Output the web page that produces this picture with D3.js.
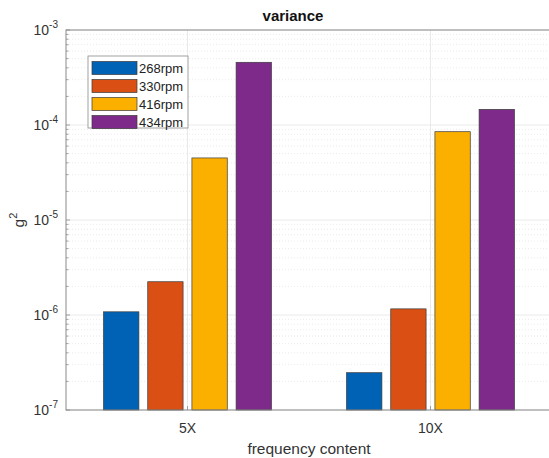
<!DOCTYPE html>
<html><head><meta charset="utf-8">
<script src="https://cdn.jsdelivr.net/npm/d3@7"></script>
<style>body{margin:0;background:#fff}svg{display:block}text{font-family:"Liberation Sans",Arial,Helvetica,sans-serif}</style>
</head><body>
<script>
const categories = ["5X", "10X"];
const seriesNames = ["268rpm", "330rpm", "416rpm", "434rpm"];
const v268 = [1.08e-6, 2.47e-7];
const v330 = [2.24e-6, 1.16e-6];
const v416 = [4.5e-5, 8.5e-5];
const v434 = [4.57e-4, 1.46e-4];
const seriesValues = [v268, v330, v416, v434];
const yTickExps = [-7, -6, -5, -4, -3];
const colors = ["#0062B4", "#DA5014", "#FBB000", "#7E2A8A"];

const W = 549, H = 458;
const m = {l: 66, t: 30, r: 552, b: 410};
const svg = d3.select("body").append("svg").attr("width", W).attr("height", H);

const x = d3.scaleLinear().domain([0.5, 2.5]).range([m.l, m.r]);
const y = d3.scaleLog().domain([1e-7, 1e-3]).range([m.b, m.t]);

// grid
const g = svg.append("g");
const minor = [];
for (let e = -7; e < -3; e++) for (let k = 2; k <= 9; k++) minor.push(k * Math.pow(10, e));
g.selectAll(".mn").data(minor).join("line")
  .attr("x1", m.l).attr("x2", m.r).attr("y1", d => y(d)).attr("y2", d => y(d))
  .attr("stroke", "#dedede").attr("stroke-width", 0.6).attr("stroke-dasharray", "1,2");
g.selectAll(".mj").data(yTickExps).join("line")
  .attr("x1", m.l).attr("x2", m.r).attr("y1", d => y(Math.pow(10, d))).attr("y2", d => y(Math.pow(10, d)))
  .attr("stroke", "#e4e4e4").attr("stroke-width", 0.8);
g.selectAll(".xg").data(categories).join("line")
  .attr("x1", (d, i) => x(i + 1)).attr("x2", (d, i) => x(i + 1)).attr("y1", m.t).attr("y2", m.b)
  .attr("stroke", "#e4e4e4").attr("stroke-width", 0.8);

// bars
const n = seriesNames.length;
const groupW = Math.min(0.8, n / (n + 1.5));
const step = groupW / n;
const bw = step * 0.8;
seriesValues.forEach((vals, s) => {
  svg.append("g").selectAll("rect").data(vals).join("rect")
    .attr("x", (d, i) => x(i + 1 - groupW / 2 + step * (s + 0.5) - bw / 2))
    .attr("width", x(bw) - x(0))
    .attr("y", d => y(d))
    .attr("height", d => y(1e-7) - y(d))
    .attr("fill", colors[s]).attr("stroke", "#3a3a3a").attr("stroke-width", 0.7);
});

// axes box
svg.append("rect").attr("x", m.l).attr("y", m.t).attr("width", m.r - m.l).attr("height", m.b - m.t)
  .attr("fill", "none").attr("stroke", "#8a8a8a").attr("stroke-width", 1);
// y ticks
svg.append("g").selectAll("line").data(minor.concat(yTickExps.map(e => Math.pow(10, e)))).join("line")
  .attr("x1", m.l).attr("x2", d => m.l + (yTickExps.some(e => Math.abs(Math.pow(10, e) - d) < d * 1e-6) ? 4 : 2.5))
  .attr("y1", d => y(d)).attr("y2", d => y(d)).attr("stroke", "#8a8a8a").attr("stroke-width", 0.8);
// x ticks
svg.append("g").selectAll("line").data(categories).join("line")
  .attr("x1", (d, i) => x(i + 1)).attr("x2", (d, i) => x(i + 1)).attr("y1", m.b).attr("y2", m.b - 4)
  .attr("stroke", "#8a8a8a").attr("stroke-width", 0.8);

// y tick labels
const yl = svg.append("g").selectAll("text").data(yTickExps).join("text")
  .attr("x", 58).attr("y", d => y(Math.pow(10, d)) + 5)
  .attr("text-anchor", "end").attr("fill", "#333").attr("font-size", 14);
yl.append("tspan").text("10");
yl.append("tspan").attr("dy", -7).attr("font-size", 10).text(d => "" + d);

// x tick labels
svg.append("g").selectAll("text").data(categories).join("text")
  .attr("x", (d, i) => x(i + 1)).attr("y", 433).attr("text-anchor", "middle")
  .attr("fill", "#333").attr("font-size", 14).text(d => d);

// axis labels
svg.append("text").attr("x", 309).attr("y", 454).attr("text-anchor", "middle")
  .attr("fill", "#333").attr("font-size", 15.5).text("frequency content");
const ylab = svg.append("text").attr("transform", "translate(24,220) rotate(-90)").attr("text-anchor", "middle")
  .attr("fill", "#333").attr("font-size", 15.5);
ylab.append("tspan").text("g");
ylab.append("tspan").attr("dy", -7).attr("font-size", 11).text("2");

// title
svg.append("text").attr("x", 293).attr("y", 21).attr("text-anchor", "middle")
  .attr("font-weight", "bold").attr("font-size", 15).attr("fill", "#111").text("variance");

// legend
const lg = svg.append("g");
lg.append("rect").attr("x", 88).attr("y", 56).attr("width", 100).attr("height", 72)
  .attr("fill", "#fff").attr("stroke", "#8a8a8a").attr("stroke-width", 0.8);
seriesNames.forEach((name, i) => {
  const cy = 68 + i * 18;
  lg.append("rect").attr("x", 92).attr("y", cy - 6.5).attr("width", 45).attr("height", 13)
    .attr("fill", colors[i]).attr("stroke", "#3a3a3a").attr("stroke-width", 0.7);
  lg.append("text").attr("x", 139).attr("y", cy + 4.5).attr("font-size", 13).attr("fill", "#222").text(name);
});
</script>
</body></html>
